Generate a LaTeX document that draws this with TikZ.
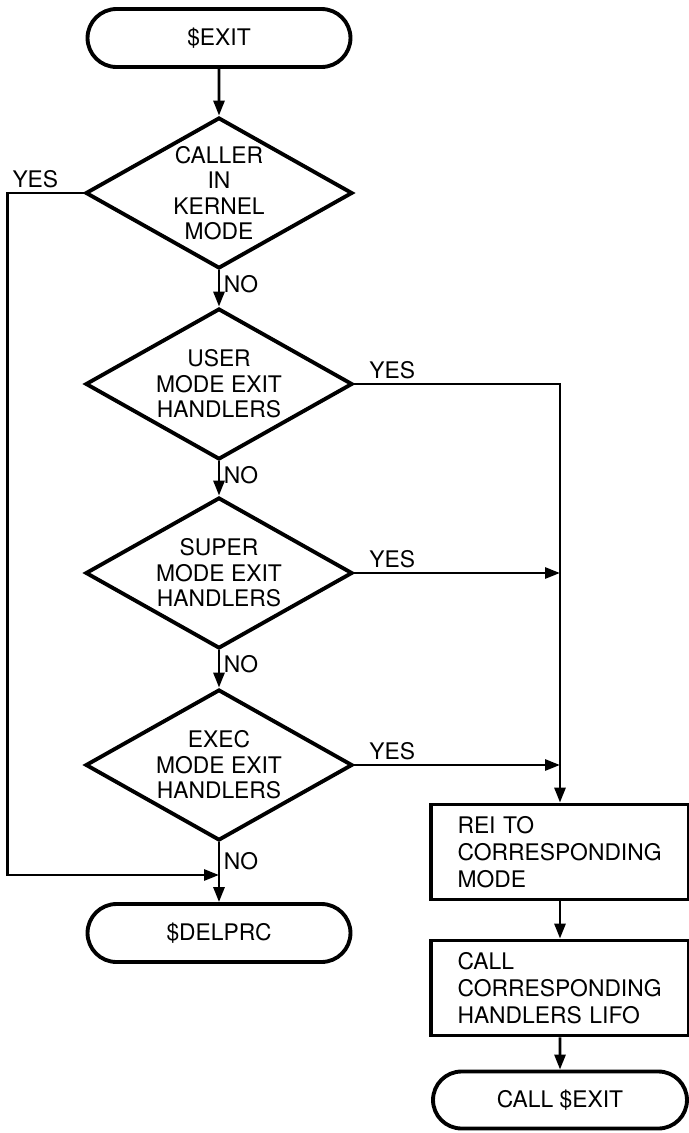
\documentclass[tikz,border=0pt]{standalone}
\usepackage{fontspec}
\setmainfont{TeX Gyre Heros}
\usetikzlibrary{shapes.geometric,shapes.misc,arrows.meta}
\begin{document}
\begin{tikzpicture}[x=0.02cm, y=-0.02cm,
  every node/.style={font=\fontsize{13}{14.5}\selectfont},
  term/.style={draw,line width=2.2pt,rounded rectangle,minimum width=5.26cm,minimum height=1.16cm,inner sep=0pt},
  test/.style={draw,line width=2.2pt,diamond,aspect=1.77,minimum width=5.34cm,minimum height=3.02cm,inner sep=0pt,align=center},
  proc/.style={draw,line width=2.2pt,rectangle,minimum width=5.16cm,minimum height=1.9cm,text width=4.1cm,inner xsep=0.53cm,align=left,font=\fontsize{13}{15.2}\selectfont},
  lbl/.style={inner sep=2pt},
  flow/.style={line width=1.6pt,-{Triangle[length=0.3cm,width=0.22cm]}}]
\useasboundingbox (0,0) rectangle (689,1133);
% main column
\node[term] (exit) at (219,38) {\$EXIT};
\node[test] (kern) at (219,193) {CALLER\\IN\\KERNEL\\MODE};
\node[test] (user) at (219,384) {USER\\MODE EXIT\\HANDLERS};
\node[test] (super) at (219,573) {SUPER\\MODE EXIT\\HANDLERS};
\node[test] (exec) at (219,765) {EXEC\\MODE EXIT\\HANDLERS};
\node[term] (delprc) at (219,933) {\$DELPRC};
\coordinate (merge) at (219,875);
% handler column
\node[proc] (rei) at (560,852) {REI TO\\CORRESPONDING\\MODE};
\node[proc] (lifo) at (560,988) {CALL\\CORRESPONDING\\HANDLERS LIFO};
\node[term,minimum width=5.08cm,minimum height=1.14cm] (callexit) at (560,1100) {CALL \$EXIT};
% connectors
\draw[flow] (exit) -- (kern);
\draw[flow] (kern.south) node[lbl,below right] {NO} -- (user.north);
\draw[flow] (user.south) node[lbl,below right] {NO} -- (super.north);
\draw[flow] (super.south) node[lbl,below right] {NO} -- (exec.north);
\draw[flow] (exec.south) node[lbl,below right,yshift=-0.1cm] {NO} -- (delprc.north);
\draw[flow] (kern.west) -- ++(-76,0) node[lbl,above right] {YES} |- (merge);
\draw[flow] (user.east) node[lbl,above right,xshift=0.2cm] {YES} -- (user.east -| rei.north) -- (rei.north);
\draw[flow] (super.east) node[lbl,above right,xshift=0.2cm] {YES} -- (super.east -| rei.north);
\draw[flow] (exec.east) node[lbl,above right,xshift=0.2cm] {YES} -- (exec.east -| rei.north);
\draw[flow] (rei) -- (lifo);
\draw[flow] (lifo) -- (callexit);
\end{tikzpicture}
\end{document}
